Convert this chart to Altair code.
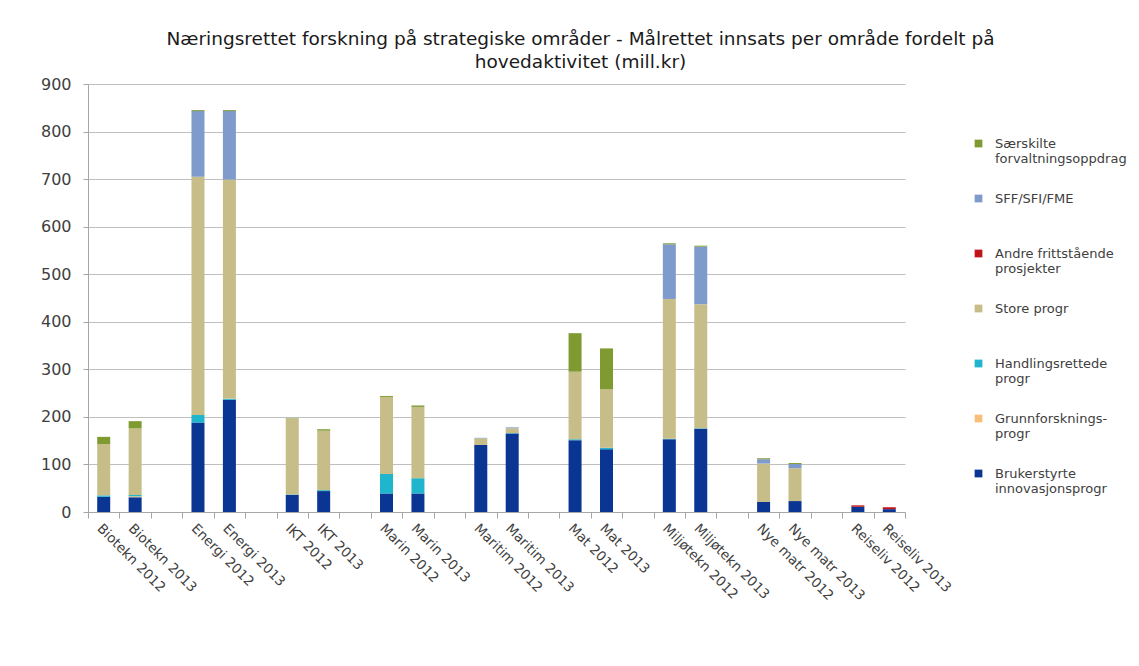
import altair as alt
import pandas as pd

categories = ["Biotekn 2012", "Biotekn 2013", " ", "Energi 2012", "Energi 2013", "  ",
              "IKT 2012", "IKT 2013", "   ", "Marin 2012", "Marin 2013", "    ",
              "Maritim 2012", "Maritim 2013", "     ", "Mat 2012", "Mat 2013", "      ",
              "Miljøtekn 2012", "Miljøtekn 2013", "       ", "Nye matr 2012", "Nye matr 2013",
              "        ", "Reiseliv 2012", "Reiseliv 2013"]

bar_cats = ["Biotekn 2012", "Biotekn 2013", "Energi 2012", "Energi 2013", "IKT 2012", "IKT 2013",
            "Marin 2012", "Marin 2013", "Maritim 2012", "Maritim 2013", "Mat 2012", "Mat 2013",
            "Miljøtekn 2012", "Miljøtekn 2013", "Nye matr 2012", "Nye matr 2013",
            "Reiseliv 2012", "Reiseliv 2013"]

# stacking order bottom -> top
series = ["Brukerstyrte innovasjonsprogr", "Grunnforsknings-progr", "Handlingsrettede progr",
          "Store progr", "Andre frittstående prosjekter", "SFF/SFI/FME",
          "Særskilte forvaltningsoppdrag"]

brukerstyrte = [32, 31, 188, 236, 36, 44, 39, 39, 141, 165, 151, 132, 153, 175, 21, 23, 11, 6]
grunnforskning = [0, 2, 0, 0, 0, 0, 0, 0, 0, 0, 0, 0, 0, 0, 0, 0, 0, 0]
handlingsrettede = [3, 3, 16, 2, 1, 2, 41, 32, 0, 1, 2, 3, 1, 1, 0, 0, 0, 0]
store_progr = [108, 140, 501, 461, 159, 125, 162, 150, 14, 10, 142, 123, 294, 261, 81, 69, 0, 0]
andre = [0, 0, 0, 0, 0, 0, 0, 0, 0, 0, 0, 0, 0, 0, 0, 0, 3, 4]
sff = [0, 0, 138, 144, 0, 0, 0, 0, 1, 2, 0, 0, 115, 121, 9, 9, 0, 0]
saerskilte = [15, 15, 2, 2, 1, 3, 2, 3, 0, 0, 81, 86, 2, 2, 2, 2, 0, 0]

colors = ["#0A3592", "#F8BE7C", "#1FB5CC", "#C7BD89", "#C0141B", "#7F9BCC", "#7E9A31"]

legend_order = series[::-1]
legend_colors = colors[::-1]

values = [brukerstyrte, grunnforskning, handlingsrettede, store_progr, andre, sff, saerskilte]
rows = []
for si, (s, vals) in enumerate(zip(series, values)):
    for c, v in zip(bar_cats, vals):
        rows.append({"cat": c, "serie": s, "value": v, "order": si})
df = pd.DataFrame(rows)

label_expr = ("datum.label == 'Særskilte forvaltningsoppdrag' ? ['Særskilte', 'forvaltningsoppdrag'] : "
              "datum.label == 'Andre frittstående prosjekter' ? ['Andre frittstående', 'prosjekter'] : "
              "datum.label == 'Handlingsrettede progr' ? ['Handlingsrettede', 'progr'] : "
              "datum.label == 'Grunnforsknings-progr' ? ['Grunnforsknings-', 'progr'] : "
              "datum.label == 'Brukerstyrte innovasjonsprogr' ? ['Brukerstyrte', 'innovasjonsprogr'] : datum.label")

FONT = "DejaVu Sans"

chart = alt.Chart(df).mark_bar(width=13).encode(
    x=alt.X("cat:N", sort=categories,
            scale=alt.Scale(domain=categories, paddingInner=0, paddingOuter=0),
            axis=alt.Axis(title=None, labelAngle=45, labelAlign="left", labelBaseline="top",
                          labelFontSize=13.5, labelColor="#404040", labelFont=FONT,
                          tickBand="extent", tickSize=6, tickColor="#A6A6A6",
                          domainColor="#A6A6A6", labelPadding=3, grid=False)),
    y=alt.Y("value:Q", stack="zero",
            scale=alt.Scale(domain=[0, 900]),
            axis=alt.Axis(title=None, values=list(range(0, 901, 100)), labelFontSize=16,
                          labelColor="#404040", labelFont=FONT, tickSize=5,
                          tickColor="#A6A6A6", domainColor="#A6A6A6",
                          gridColor="#BFBFBF", labelPadding=12)),
    color=alt.Color("serie:N",
                    scale=alt.Scale(domain=legend_order, range=legend_colors),
                    legend=alt.Legend(title=None, orient="none", legendX=884, legendY=53,
                                      symbolType="square", symbolSize=60, symbolStrokeWidth=0,
                                      labelFontSize=13, labelColor="#404040", labelFont=FONT,
                                      labelExpr=label_expr, labelLimit=300, labelOffset=10,
                                      gridAlign="all", rowPadding=26)),
    order=alt.Order("order:Q", sort="ascending"),
).properties(
    width=817, height=428,
    title=alt.TitleParams(
        ["Næringsrettet forskning på strategiske områder - Målrettet innsats per område fordelt på",
         "hovedaktivitet (mill.kr)"],
        fontSize=18.5, font=FONT, fontWeight="normal", color="#1A1A1A",
        anchor="middle", dx=84, offset=5, lineHeight=23),
    autosize=alt.AutoSizeParams(type="none"),
    padding={"left": 80, "top": 76, "right": 226, "bottom": 146},
).configure_view(stroke=None)

chart.save("out.html", embed_options={"renderer": "svg", "actions": False})
